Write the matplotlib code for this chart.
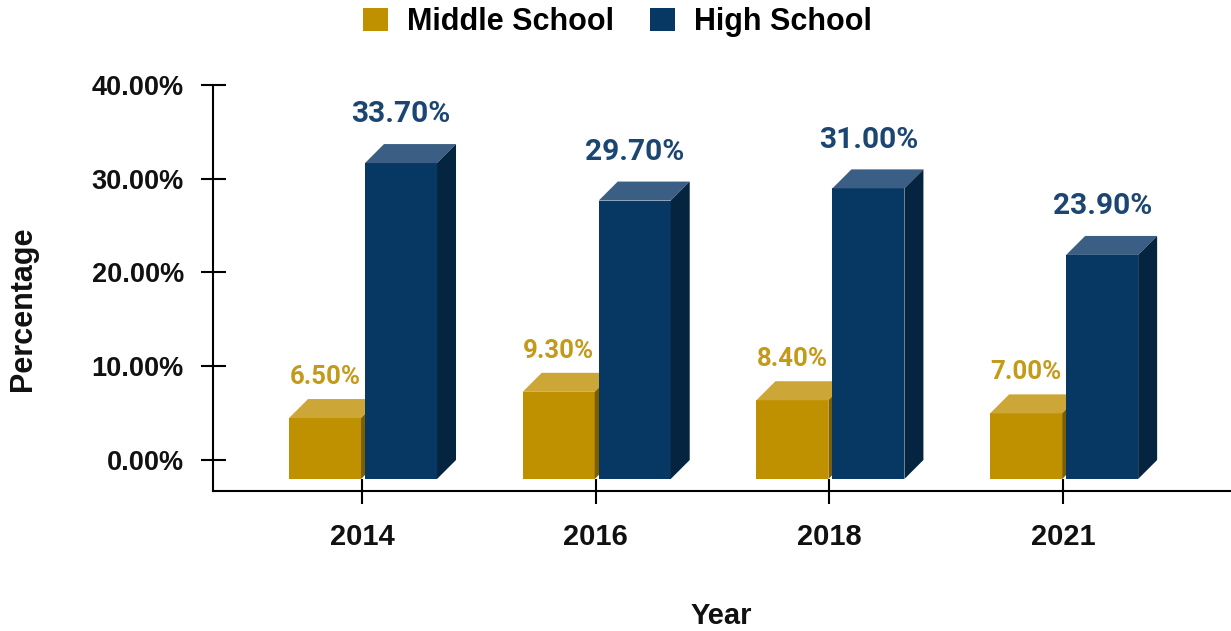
import matplotlib
matplotlib.use("Agg")
import matplotlib.pyplot as plt
from matplotlib.patches import Polygon, Patch

# ---- data ----
years = ["2014", "2016", "2018", "2021"]
middle_school = [6.5, 9.3, 8.4, 7.0]
high_school = [33.7, 29.7, 31.0, 23.9]
y_ticks = [0, 10, 20, 30, 40]

# ---- styles ----
MS_FRONT, MS_TOP, MS_SIDE, MS_TEXT = "#BF9000", "#CCA637", "#7D5E00", "#C49A1A"
HS_FRONT, HS_TOP, HS_SIDE, HS_TEXT = "#073763", "#3A5E84", "#05243F", "#1C4672"
LABEL_FONT = ["Liberation Sans", "DejaVu Sans"]
VALUE_FONT = ["Roboto", "DejaVu Sans"]

W, H, DPI = 12.31, 6.31, 100
fig = plt.figure(figsize=(W, H), dpi=DPI)
px_w, px_h = W * DPI, H * DPI
ax_left, ax_right, ax_top, ax_bottom = 213, 1230, 85, 491
ax = fig.add_axes([ax_left / px_w, 1 - ax_bottom / px_h,
                   (ax_right - ax_left) / px_w, (ax_bottom - ax_top) / px_h])

ax.set_ylim(-3.307, 40)
ax.set_xlim(-0.6376, 3.714)

# pixel -> data conversions for the pseudo-3D depth
p0 = ax.transData.transform((0, 0))
p1 = ax.transData.transform((1, 1))
ux = p1[0] - p0[0]
uy = p1[1] - p0[1]
DEPTH_PX = 19
dx = DEPTH_PX / ux
dy = DEPTH_PX / uy
bar_w = 72 / ux
gap = 4 / ux


def bar3d(x0, value, front, top, side, z):
    x1 = x0 + bar_w
    # front face
    ax.add_patch(Polygon([(x0, -dy), (x1, -dy), (x1, value - dy), (x0, value - dy)],
                         closed=True, facecolor=front, edgecolor="none", zorder=z))
    # top face
    ax.add_patch(Polygon([(x0, value - dy), (x0 + dx, value), (x1 + dx, value), (x1, value - dy)],
                         closed=True, facecolor=top, edgecolor="none", zorder=z))
    # side face
    ax.add_patch(Polygon([(x1, -dy), (x1 + dx, 0), (x1 + dx, value), (x1, value - dy)],
                         closed=True, facecolor=side, edgecolor="none", zorder=z))


for i, (ms, hs) in enumerate(zip(middle_school, high_school)):
    ms_x = i - gap / 2 - bar_w + 1 / ux
    hs_x = i + gap / 2 + 1 / ux
    bar3d(ms_x, ms, MS_FRONT, MS_TOP, MS_SIDE, 3)
    bar3d(hs_x, hs, HS_FRONT, HS_TOP, HS_SIDE, 4)
    ax.annotate(f"{ms:.2f}%", xy=(ms_x + bar_w / 2, ms), xytext=(0, 16),
                textcoords="offset points", ha="center", va="center",
                fontsize=18.5, fontweight="bold", color=MS_TEXT,
                family=VALUE_FONT, zorder=6)
    ax.annotate(f"{hs:.2f}%", xy=(hs_x + bar_w / 2, hs), xytext=(0, 21.5),
                textcoords="offset points", ha="center", va="center",
                fontsize=21.5, fontweight="bold", color=HS_TEXT,
                family=VALUE_FONT, zorder=6)

# ---- axes styling ----
for s in ("top", "right"):
    ax.spines[s].set_visible(False)
for s in ("left", "bottom"):
    ax.spines[s].set_linewidth(1.5)
    ax.spines[s].set_color("black")

ax.set_yticks(y_ticks)
ax.set_yticklabels([f"{v:.2f}%" for v in y_ticks])
ax.set_xticks(range(len(years)))
ax.set_xticklabels(years)
ax.tick_params(axis="y", direction="inout", length=18, width=1.5, pad=12,
               labelsize=19.5, colors="black")
ax.tick_params(axis="x", direction="inout", length=18, width=1.5, pad=14,
               labelsize=21, colors="black")
for lab in ax.get_yticklabels() + ax.get_xticklabels():
    lab.set_fontweight("bold")
    lab.set_family(LABEL_FONT)
    lab.set_color("#111111")

ax.set_xlabel("Year", fontsize=21, fontweight="bold", family=LABEL_FONT,
              va="center", color="#111111")
ax.xaxis.set_label_coords(0.5, (ax_bottom - 616) / (ax_bottom - ax_top))
ax.set_ylabel("Percentage", fontsize=22, fontweight="bold", family=LABEL_FONT,
              va="center", color="#111111")
ax.yaxis.set_label_coords((23 - ax_left) / (ax_right - ax_left),
                          (ax_bottom - 309) / (ax_bottom - ax_top))

handles = [Patch(facecolor=MS_FRONT, edgecolor="none", label="Middle School"),
           Patch(facecolor=HS_FRONT, edgecolor="none", label="High School")]
fig.legend(handles=handles, loc="center", bbox_to_anchor=(617.5 / px_w, 1 - 22 / px_h),
           ncol=2, frameon=False, borderpad=0, handlelength=0.82, handleheight=0.82,
           handletextpad=0.62, columnspacing=1.18,
           prop={"family": LABEL_FONT, "weight": "bold", "size": 22})

fig.savefig("out.png", dpi=DPI, facecolor="white")
